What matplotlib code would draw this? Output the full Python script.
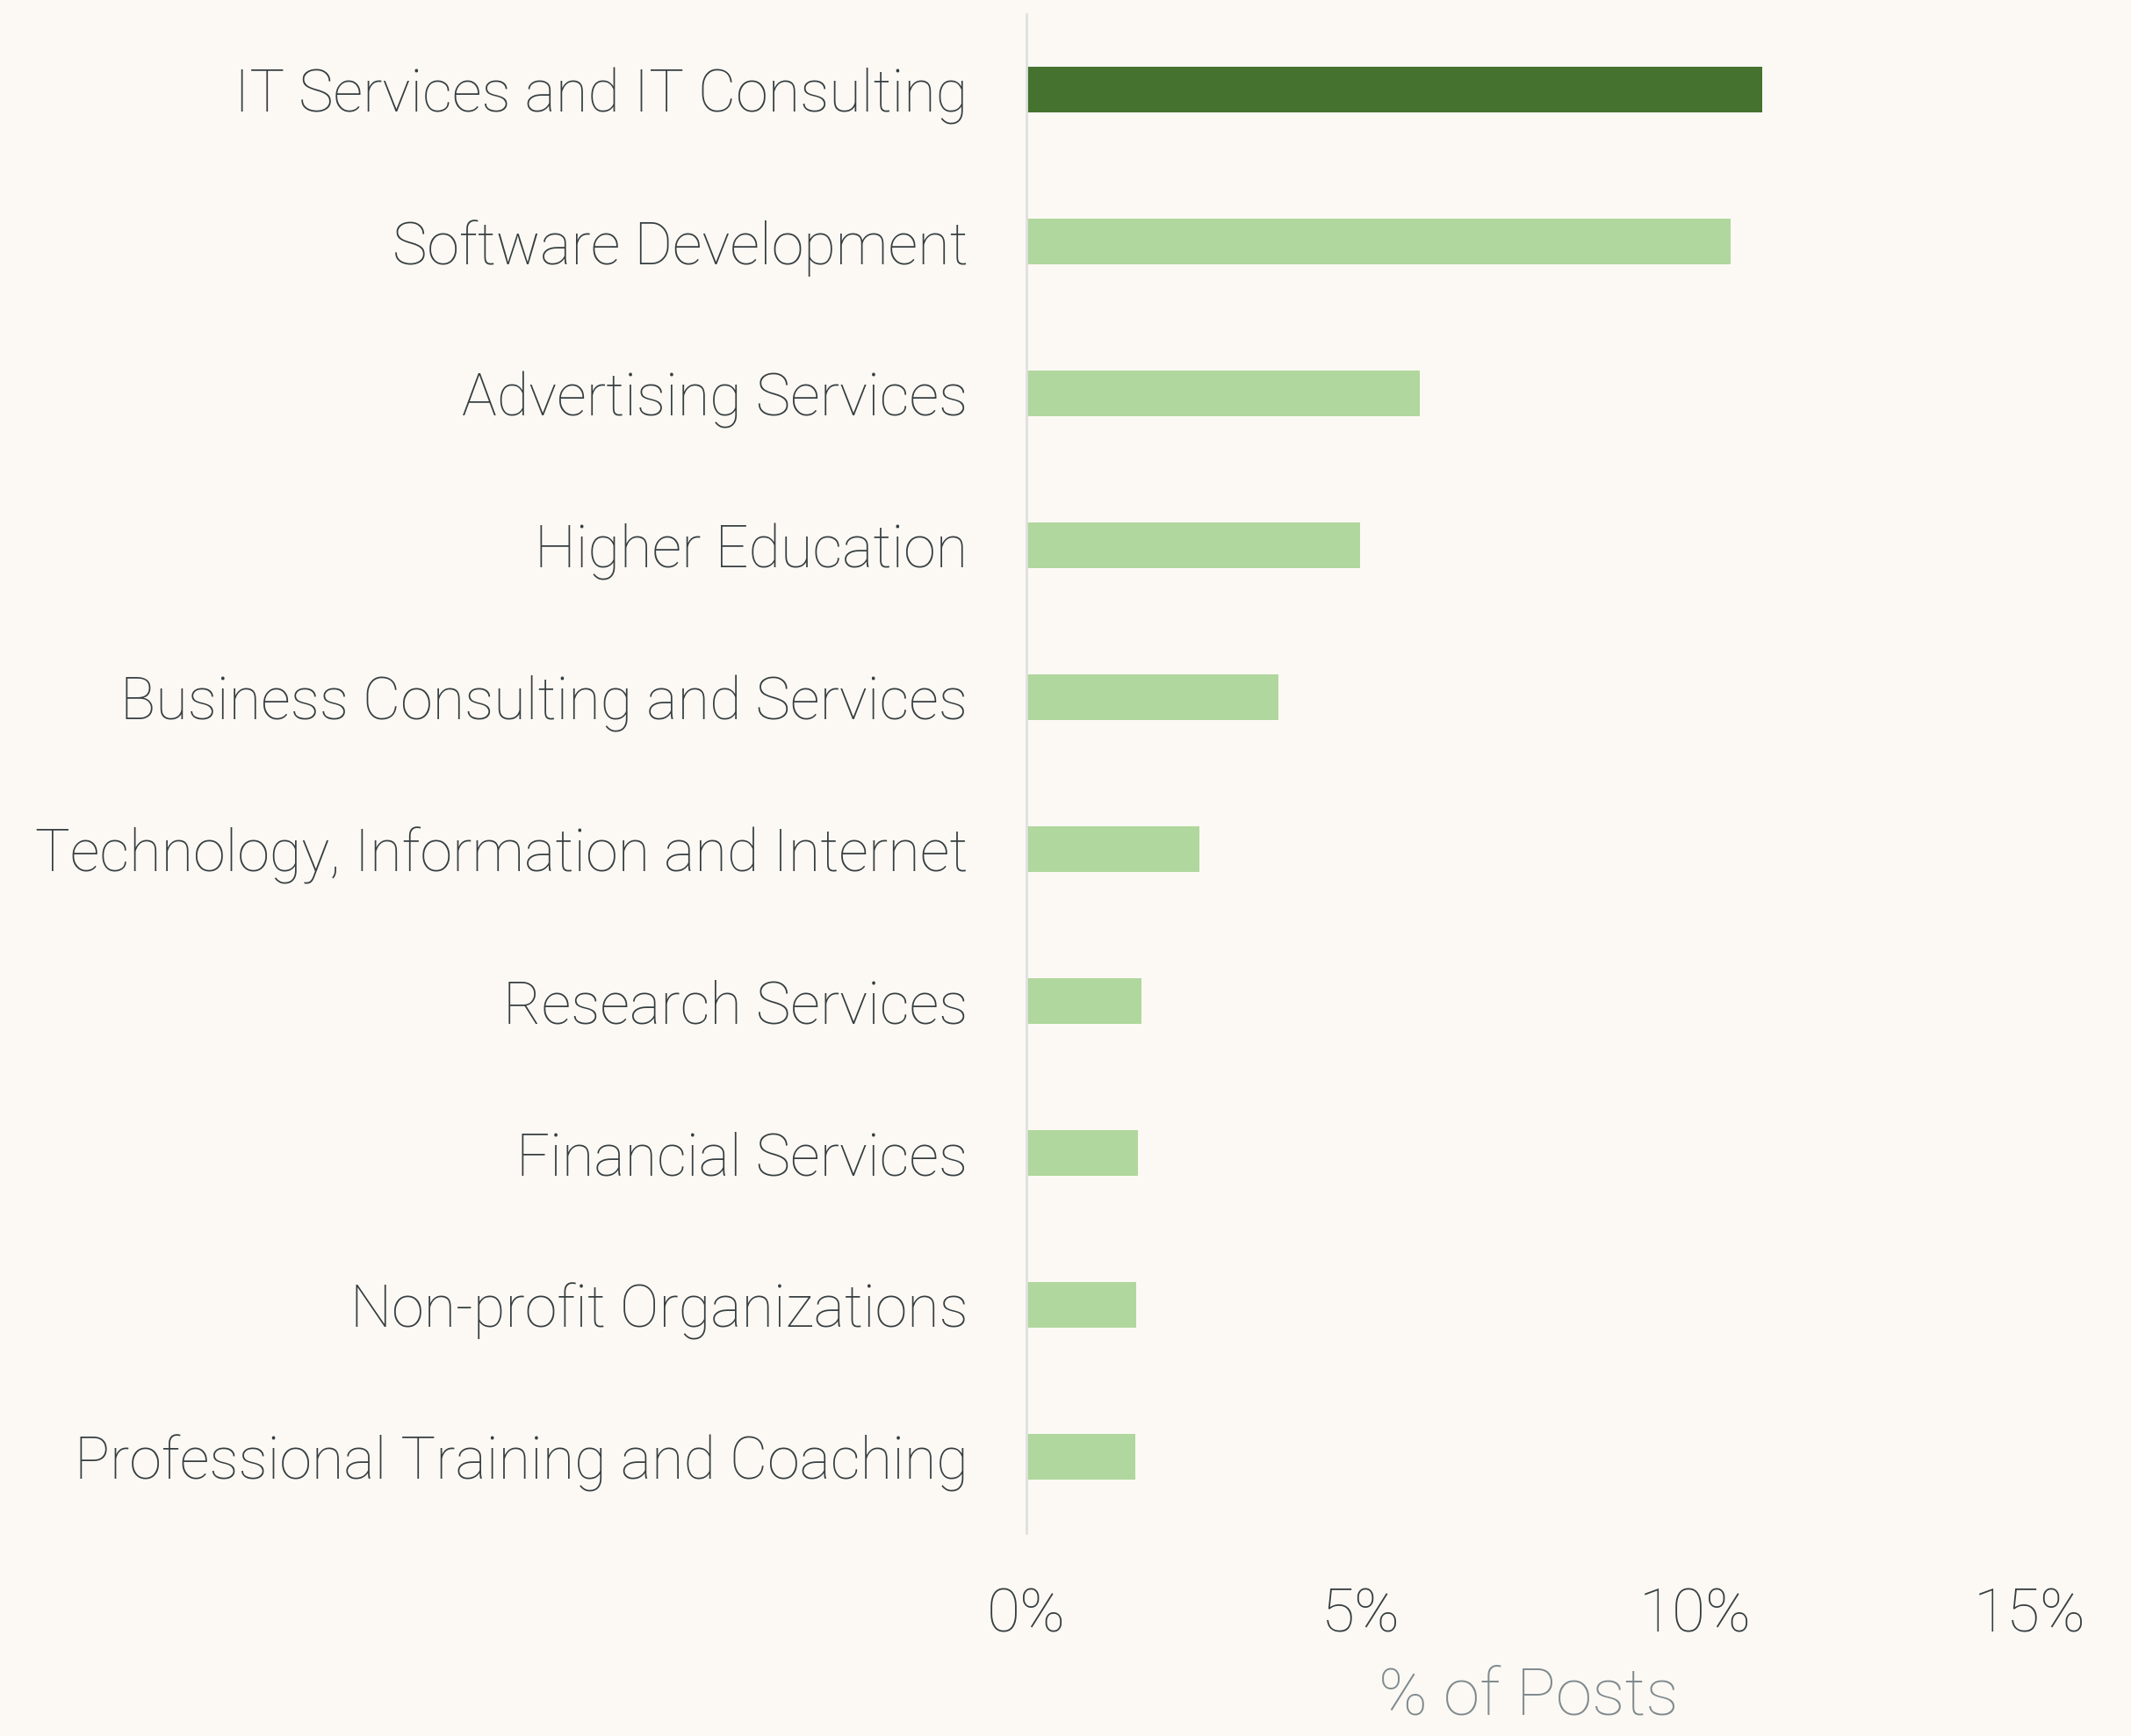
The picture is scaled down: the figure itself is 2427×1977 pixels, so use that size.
import matplotlib.pyplot as plt

# industries, top to bottom
industries = [
    "IT Services and IT Consulting",
    "Software Development",
    "Advertising Services",
    "Higher Education",
    "Business Consulting and Services",
    "Technology, Information and Internet",
    "Research Services",
    "Financial Services",
    "Non-profit Organizations",
    "Professional Training and Coaching",
]
share = [11.0, 10.52, 5.88, 4.99, 3.77, 2.58, 1.72, 1.66, 1.64, 1.62]
xticks = [0, 5, 10, 15]
xtick_labels = ["0%", "5%", "10%", "15%"]

bg = "#fcf9f4"
dark = "#45732f"
light = "#b0d79d"
text_col = "#363e41"

plt.rcParams['font.family'] = ['Roboto', 'DejaVu Sans']

fig = plt.figure(figsize=(12.135, 9.885), dpi=200, facecolor=bg)
ax = fig.add_axes([0.4817, 0.117, 0.4709, 0.875])
ax.set_facecolor(bg)

colors = [dark] + [light] * (len(industries) - 1)
y = list(range(len(industries)))
ax.barh(y, share, height=0.3, color=colors)

ax.set_ylim(len(industries) - 0.5, -0.5)
ax.set_xlim(0, 15)
ax.set_yticks(y)
ax.set_yticklabels(industries, fontsize=24, fontweight='light', color=text_col)
ax.set_xticks(xticks)
ax.set_xticklabels(xtick_labels, fontsize=25, fontweight='light', color=text_col)
ax.tick_params(axis='y', length=0, pad=24)
ax.tick_params(axis='x', length=0, pad=22)

for s in ['top', 'right', 'bottom']:
    ax.spines[s].set_visible(False)
ax.spines['left'].set_color('#e0e0e0')
ax.spines['left'].set_linewidth(1.0)

ax.set_xlabel("% of Posts", fontsize=27, fontweight='light', color='#7f8a8e', labelpad=9)

fig.savefig("out.png", facecolor=bg)
